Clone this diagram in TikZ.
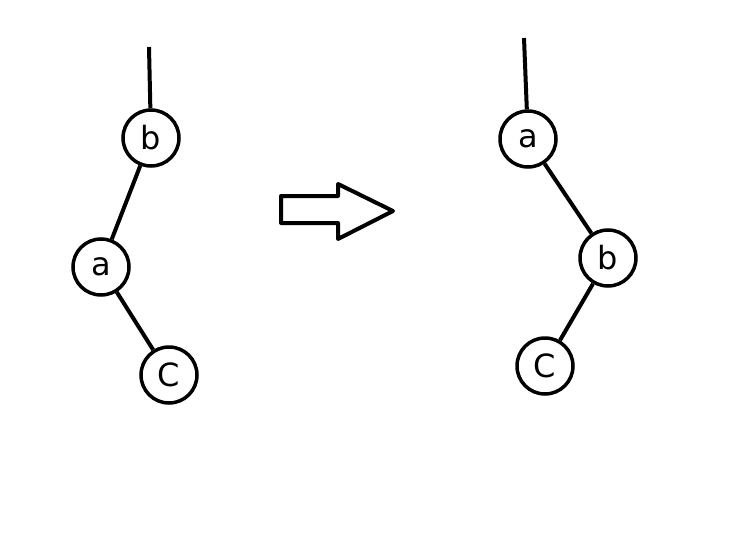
\documentclass[tikz,border=0pt]{standalone}
\usepackage{fontspec}
\setmainfont{DejaVu Sans}
\begin{document}
\begin{tikzpicture}[x=1pt,y=-1pt,
  treenode/.style={circle,draw=black,line width=3.5pt,minimum size=56pt,inner sep=0pt,font=\fontsize{32}{32}\selectfont},
  link/.style={line width=4pt,draw=black}]
\useasboundingbox (0,0) rectangle (742,551);
\fill[white] (0,0) rectangle (742,551);
% left tree
\coordinate (ltop) at (149,47);
\node[treenode] (lb) at (151,138) {b};
\node[treenode] (la) at (101,267) {a};
\node[treenode] (lc) at (169,375) {C};
\draw[link] (ltop) -- (lb);
\draw[link] (lb) -- (la);
\draw[link] (la) -- (lc);
% arrow
\draw[line width=4pt,line join=round] (281,196) -- (338,196) -- (338,184) -- (393,211) -- (338,239) -- (338,223) -- (281,223) -- cycle;
% right tree
\coordinate (rtop) at (524,38);
\node[treenode] (ra) at (528,139) {a};
\node[treenode] (rb) at (608,258) {b};
\node[treenode] (rc) at (545,366) {C};
\draw[link] (rtop) -- (ra);
\draw[link] (ra) -- (rb);
\draw[link] (rb) -- (rc);
\end{tikzpicture}
\end{document}
